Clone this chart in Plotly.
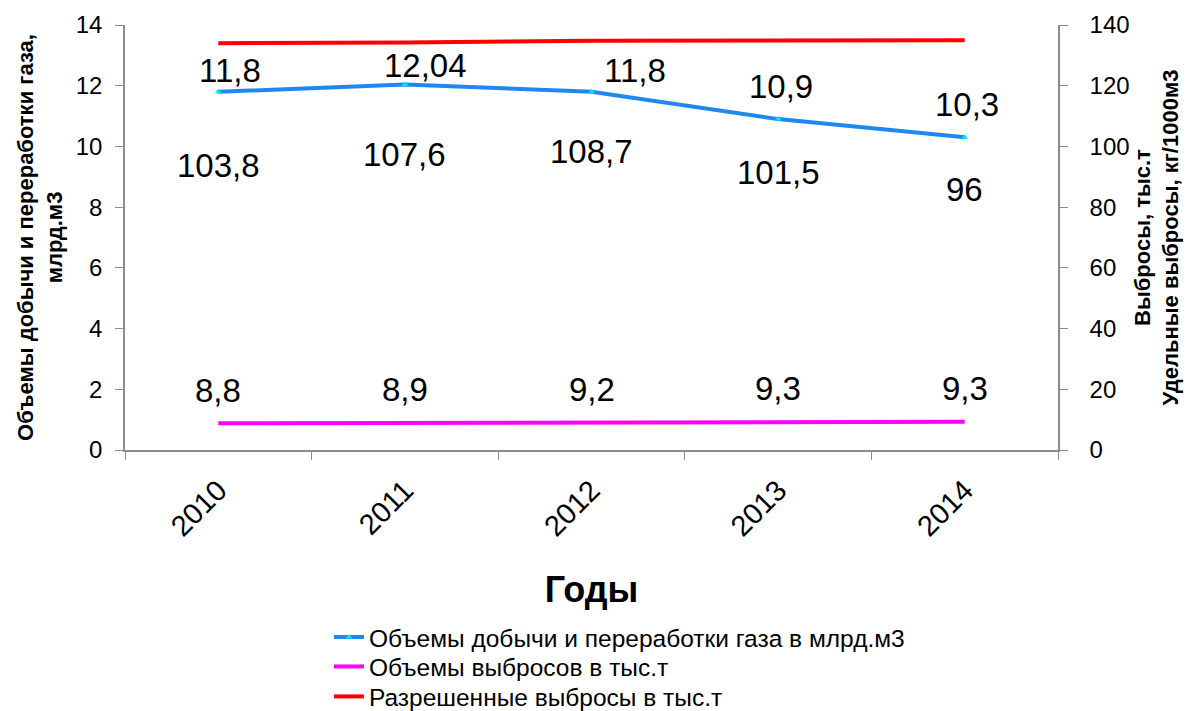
import plotly.graph_objects as go

years = ["2010", "2011", "2012", "2013", "2014"]
gas_volume = [11.8, 12.04, 11.8, 10.9, 10.3]          # left axis, млрд.м3
emissions = [8.8, 8.9, 9.2, 9.3, 9.3]                 # right axis, тыс.т
allowed_emissions = [134, 134.2, 134.8, 135, 135]     # right axis, тыс.т
specific_emissions = [103.8, 107.6, 108.7, 101.5, 96]  # right axis, кг/1000м3 (labels only)

names = [
    "Объемы добычи и переработки газа в млрд.м3",
    "Объемы выбросов в тыс.т",
    "Разрешенные выбросы в тыс.т",
]

# label placement (pixel offsets from the point, as placed in the original)
gas_label_dx = [12, 21, 43, 3, 2]
gas_label_dy = [21, 19, 21, 33, 33]
emis_label_dy = 33
spec_label_dy = -31


def fmt(v):
    return f"{v:g}".replace(".", ",")


FONT = "Liberation Sans, Arial, sans-serif"
LBL = dict(size=33, color="black", family=FONT)
AX = "#8c8c8c"

fig = go.Figure()
fig.add_trace(go.Scatter(
    x=years, y=gas_volume, name=names[0], mode="lines+markers", legend="legend",
    line=dict(color="#1E88F0", width=4),
    marker=dict(symbol="triangle-up", size=6, color="#00E5FF"),
))
fig.add_trace(go.Scatter(
    x=years, y=emissions, name=names[1], mode="lines", yaxis="y2", legend="legend2",
    line=dict(color="#FF00FF", width=4),
))
fig.add_trace(go.Scatter(
    x=years, y=allowed_emissions, name=names[2], mode="lines", yaxis="y2", legend="legend3",
    line=dict(color="#FF0000", width=4),
))
fig.add_trace(go.Scatter(
    x=years, y=specific_emissions, mode="markers", yaxis="y2",
    marker=dict(size=1, opacity=0), showlegend=False, hoverinfo="skip",
))

# category axis: annotations addressed by category index
for i, v in enumerate(gas_volume):
    fig.add_annotation(x=i, y=v, xref="x", yref="y", text=fmt(v), showarrow=False,
                       xshift=gas_label_dx[i], yshift=gas_label_dy[i], font=LBL)
for i, v in enumerate(emissions):
    fig.add_annotation(x=i, y=v, xref="x", yref="y2", text=fmt(v), showarrow=False,
                       yshift=emis_label_dy, font=LBL)
for i, v in enumerate(specific_emissions):
    fig.add_annotation(x=i, y=v, xref="x", yref="y2", text=fmt(v), showarrow=False,
                       yshift=spec_label_dy, font=LBL)

LEG = dict(x=0.2186, xanchor="left", yanchor="top", orientation="v",
           font=dict(size=24.5), bgcolor="rgba(0,0,0,0)")

fig.update_layout(
    width=1191, height=711,
    paper_bgcolor="white", plot_bgcolor="white",
    margin=dict(l=125, r=133, t=25, b=261, autoexpand=False),
    font=dict(family=FONT, color="black"),
    xaxis=dict(
        type="category", tickangle=-45, tickson="boundaries",
        ticks="outside", ticklen=8, tickcolor=AX, showgrid=False,
        showline=True, linecolor=AX, linewidth=1.5, ticklabelstandoff=10,
        tickfont=dict(size=29),
        title=dict(text="<b>Годы</b>", font=dict(size=36), standoff=36),
        range=[-0.5, 4.5],
    ),
    yaxis=dict(
        range=[0, 14], dtick=2, showgrid=False, zeroline=False,
        showline=True, linecolor=AX, linewidth=1.5,
        ticks="outside", ticklen=8, tickcolor=AX, ticklabelstandoff=8,
        tickfont=dict(size=24),
        title=dict(text="<b>Объемы добычи и переработки газа,<br>млрд.м3</b>",
                   font=dict(size=22), standoff=7),
    ),
    yaxis2=dict(
        range=[0, 140], dtick=20, overlaying="y", side="right",
        showgrid=False, zeroline=False,
        showline=True, linecolor=AX, linewidth=1.5,
        ticks="outside", ticklen=8, tickcolor=AX, ticklabelstandoff=17,
        tickfont=dict(size=24),
        title=dict(text="<b>Выбросы, тыс.т<br>Удельные выбросы, кг/1000м3</b>",
                   font=dict(size=22), standoff=4),
    ),
    # inner halves of the crossing tick marks
    yaxis3=dict(
        range=[0, 14], dtick=2, overlaying="y", anchor="x", side="left",
        showgrid=False, zeroline=False, showline=False, showticklabels=False,
        ticks="inside", ticklen=8, tickcolor=AX,
    ),
    yaxis4=dict(
        range=[0, 140], dtick=20, overlaying="y", anchor="x", side="right",
        showgrid=False, zeroline=False, showline=False, showticklabels=False,
        ticks="inside", ticklen=8, tickcolor=AX,
    ),
    legend=dict(LEG, y=-0.3875),
    legend2=dict(LEG, y=-0.4565),
    legend3=dict(LEG, y=-0.527),
    showlegend=True,
)

fig.write_html(
    "out.html",
    config={"displayModeBar": False},
    post_script="document.body.style.margin='0';document.body.style.overflow='hidden';",
)
